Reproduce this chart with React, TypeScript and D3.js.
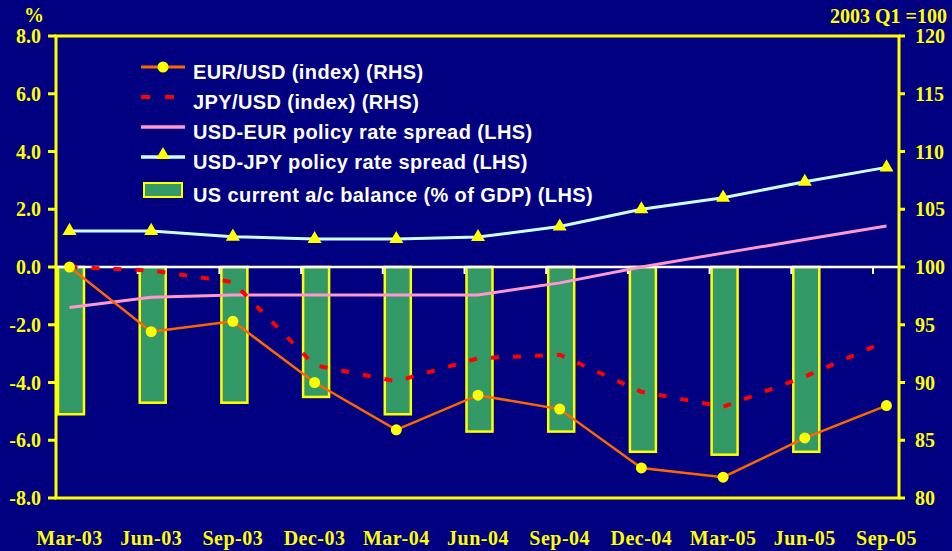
import React from "react";
import * as d3 from "d3";

const categories = ["Mar-03","Jun-03","Sep-03","Dec-03","Mar-04","Jun-04","Sep-04","Dec-04","Mar-05","Jun-05","Sep-05"];
const currentAccount: (number | null)[] = [-5.1,-4.7,-4.7,-4.5,-5.1,-5.7,-5.7,-6.4,-6.5,-6.4,null];
const usdJpySpread = [1.25,1.25,1.05,0.97,0.97,1.04,1.4,2.0,2.4,2.95,3.45];
const usdEurSpread = [-1.4,-1.05,-0.97,-0.97,-0.97,-0.97,-0.55,0.0,0.48,0.95,1.42];
const eurUsd = [100,94.4,95.3,90.0,85.9,88.9,87.7,82.6,81.8,85.2,88.0];
const jpyUsd = [100,99.7,98.7,91.5,90.1,92.1,92.4,89.2,87.9,90.5,93.6];
const leftTicks = [8,6,4,2,0,-2,-4,-6,-8];
const rightTicks = [120,115,110,105,100,95,90,85,80];
const legendItems = [
  "EUR/USD (index) (RHS)",
  "JPY/USD (index) (RHS)",
  "USD-EUR policy rate spread (LHS)",
  "USD-JPY policy rate spread (LHS)",
  "US current a/c balance (% of GDP) (LHS)",
];

const W = 952, H = 551;
const L = 56, R = 899, T = 36, B = 498;
const NAVY = "#000080", YELLOW = "#FFFF00";

export default function App() {
  const xs = d3.scalePoint<string>().domain(categories).range([L, 873]);
  const yL = d3.scaleLinear().domain([-8, 8]).range([B, T]);
  const yR = d3.scaleLinear().domain([80, 120]).range([B, T]);
  const cx = (i: number) => (xs(categories[i]) as number) + 13.5;

  const lineL = d3.line<number>().x((_, i) => cx(i)).y((d) => yL(d));
  const lineR = d3.line<number>().x((_, i) => cx(i)).y((d) => yR(d));
  const tri = d3.symbol().type(d3.symbolTriangle).size(85)();
  const serif = "'Liberation Serif', 'Times New Roman', serif";
  const sans = "'Liberation Sans', Arial, sans-serif";

  return (
    <svg width={W} height={H} style={{ position: "absolute", left: 0, top: 0 }}>
      <rect x={0} y={0} width={W} height={H} fill={NAVY} />
      {currentAccount.map((v, i) =>
        v == null ? null : (
          <rect key={"b" + i} x={(xs(categories[i]) as number) + 2} y={yL(0)}
            width={26} height={yL(v) - yL(0)} fill="#339966" stroke={YELLOW} strokeWidth={2.5} />
        )
      )}
      <line x1={L} x2={R} y1={yL(0)} y2={yL(0)} stroke="#FFFFFF" strokeWidth={2.5} />
      {categories.slice(1).map((c) => (
        <line key={"zt" + c} x1={xs(c)} x2={xs(c)} y1={yL(0)} y2={yL(0) + 7} stroke="#FFFFFF" strokeWidth={2} />
      ))}
      <rect x={L} y={T} width={R - L} height={B - T} fill="none" stroke={YELLOW} strokeWidth={3} />
      {leftTicks.map((t) => (
        <g key={"lt" + t}>
          <line x1={L - 8} x2={L} y1={yL(t)} y2={yL(t)} stroke={YELLOW} strokeWidth={3} />
          <text x={41} y={yL(t)} dy="0.35em" textAnchor="end" fill={YELLOW} fontFamily={serif}
            fontWeight="bold" fontSize={20}>{t.toFixed(1)}</text>
        </g>
      ))}
      {rightTicks.map((t) => (
        <g key={"rt" + t}>
          <line x1={R} x2={R + 6} y1={yR(t)} y2={yR(t)} stroke={YELLOW} strokeWidth={3} />
          <text x={915} y={yR(t)} dy="0.35em" textAnchor="start" fill={YELLOW} fontFamily={serif}
            fontWeight="bold" fontSize={20}>{t}</text>
        </g>
      ))}
      <text x={34} y={15} dy="0.35em" textAnchor="middle" fill={YELLOW} fontFamily={serif}
        fontWeight="bold" fontSize={20}>%</text>
      <text x={947} y={16} dy="0.35em" textAnchor="end" fill={YELLOW} fontFamily={serif}
        fontWeight="bold" fontSize={20}>2003 Q1 =100</text>
      {categories.map((c, i) => (
        <text key={"xl" + c} x={cx(i)} y={538} dy="0.35em" textAnchor="middle" fill={YELLOW}
          fontFamily={serif} fontWeight="bold" fontSize={20} letterSpacing={0.5}>{c}</text>
      ))}
      <path d={lineL(usdEurSpread) || ""} fill="none" stroke="#FF99CC" strokeWidth={3} />
      <path d={lineL(usdJpySpread) || ""} fill="none" stroke="#CCFFFF" strokeWidth={3} />
      {usdJpySpread.map((v, i) => (
        <path key={"tr" + i} d={tri || ""} transform={`translate(${cx(i)},${yL(v)})`} fill={YELLOW} />
      ))}
      <path d={lineR(jpyUsd) || ""} fill="none" stroke="#FF0000" strokeWidth={4} strokeDasharray="8,14" />
      <path d={lineR(eurUsd) || ""} fill="none" stroke="#FF6600" strokeWidth={2.5} />
      {eurUsd.map((v, i) => (
        <circle key={"c" + i} cx={cx(i)} cy={yR(v)} r={5.5} fill={YELLOW} />
      ))}
      <g>
        <line x1={141} x2={185} y1={67} y2={67} stroke="#FF6600" strokeWidth={3} />
        <circle cx={163} cy={67} r={5.5} fill={YELLOW} />
        <line x1={141} x2={185} y1={97} y2={97} stroke="#FF0000" strokeWidth={4} strokeDasharray="9,15" />
        <line x1={141} x2={185} y1={127} y2={127} stroke="#FF99CC" strokeWidth={3.5} />
        <line x1={141} x2={185} y1={157} y2={157} stroke="#CCFFFF" strokeWidth={3.5} />
        <path d={tri || ""} transform="translate(163,155)" fill={YELLOW} />
        <rect x={144} y={183} width={38} height={14} fill="#339966" stroke={YELLOW} strokeWidth={2} />
        {legendItems.map((t, i) => (
          <text key={"lg" + i} x={193} y={[72, 102, 132, 162, 195][i]} dy="0.35em" fill="#FFFFFF"
            fontFamily={sans} fontWeight="bold" fontSize={20} letterSpacing={0.4}>{t}</text>
        ))}
      </g>
    </svg>
  );
}
